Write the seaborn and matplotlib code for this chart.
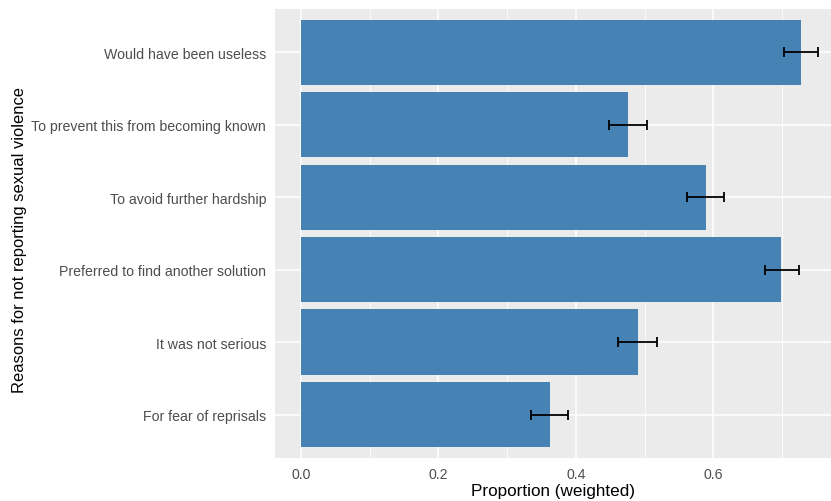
import matplotlib
matplotlib.use("Agg")
import matplotlib.pyplot as plt
import seaborn as sns
import pandas as pd
import numpy as np
from matplotlib.ticker import MultipleLocator

reasons = [
    "Would have been useless",
    "To prevent this from becoming known",
    "To avoid further hardship",
    "Preferred to find another solution",
    "It was not serious",
    "For fear of reprisals",
]
proportion = [0.728, 0.476, 0.589, 0.699, 0.490, 0.362]
ci_low = [0.703, 0.448, 0.561, 0.675, 0.461, 0.335]
ci_high = [0.752, 0.503, 0.616, 0.725, 0.518, 0.388]
x_ticks = [0.0, 0.2, 0.4, 0.6]

df = pd.DataFrame({"reason": reasons, "proportion": proportion,
                   "low": ci_low, "high": ci_high})

sns.set_theme(style="darkgrid")
plt.rcParams["font.family"] = ["Liberation Sans", "DejaVu Sans"]

fig = plt.figure(figsize=(8.31, 5.02), dpi=100)
ax = fig.add_axes([0.3305, 0.0857, 1 - 0.3305, 0.9805 - 0.0857])
ax.set_facecolor("#EBEBEB")

sns.barplot(data=df, x="proportion", y="reason", order=reasons,
            color="#4682B4", saturation=1, width=0.9, errorbar=None,
            linewidth=0, ax=ax)

ypos = np.arange(len(reasons))
ax.errorbar(df["proportion"], ypos,
            xerr=[df["proportion"] - df["low"], df["high"] - df["proportion"]],
            fmt="none", ecolor="black", elinewidth=1.3, capsize=3.6,
            capthick=1.3, zorder=4)

ax.set_xlim(-0.038, 0.771)
ax.set_ylim(len(reasons) - 0.4, -0.6)
ax.set_xticks(x_ticks)
ax.set_xticklabels([f"{t:.1f}" for t in x_ticks])
ax.xaxis.set_minor_locator(MultipleLocator(0.1))

ax.set_axisbelow(True)
ax.grid(which="major", color="white", linewidth=1.1)
ax.grid(which="minor", axis="x", color="white", linewidth=0.55)
ax.grid(which="minor", axis="y", visible=False)
for s in ax.spines.values():
    s.set_visible(False)

ax.tick_params(axis="both", which="major", length=3.7, width=1.0,
               color="#333333", labelcolor="#4D4D4D", labelsize=10.2, pad=2.5)
ax.tick_params(axis="both", which="minor", length=0)

ax.set_xlabel("Proportion (weighted)", fontsize=12.3, color="black", labelpad=2)
ax.set_ylabel("Reasons for not reporting sexual violence", fontsize=11.9,
              color="black")
ax.yaxis.set_label_coords(-0.445, 0.487)

fig.savefig("out.png", dpi=100)
